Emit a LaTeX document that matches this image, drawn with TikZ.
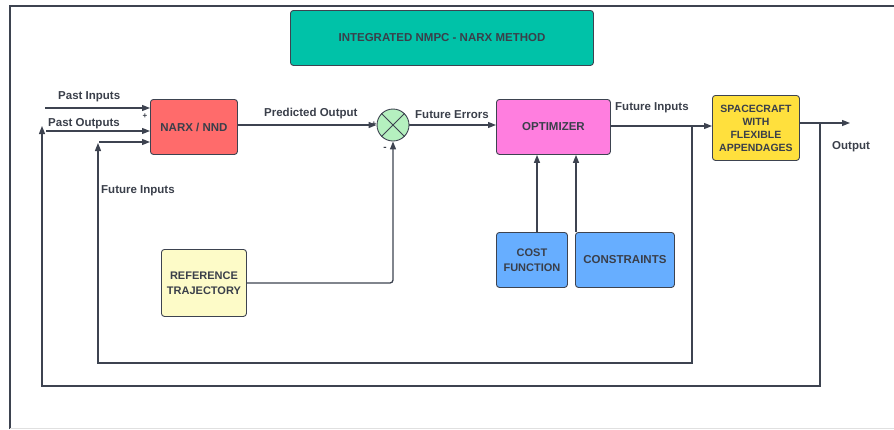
\documentclass[tikz,border=0pt]{standalone}
\usepackage{fontspec}
\setmainfont{Liberation Sans}
\usetikzlibrary{arrows.meta}
\definecolor{ln}{HTML}{3D4350}
\definecolor{tx}{HTML}{3A3F4A}
\definecolor{teal}{HTML}{00C2A8}
\definecolor{narx}{HTML}{FF6B6B}
\definecolor{opt}{HTML}{FF7EDF}
\definecolor{sc}{HTML}{FFE03D}
\definecolor{blu}{HTML}{67AEFF}
\definecolor{ref}{HTML}{FDFBC8}
\definecolor{sumc}{HTML}{B5F0BF}
\tikzset{
  blk/.style={draw=ln, line width=0.9pt, rounded corners=3pt, inner sep=0pt, anchor=north west,
    font=\fontsize{11.5}{13}\selectfont\bfseries, text=tx, align=center},
  conn/.style={draw=ln, line width=1.3pt, -{Triangle[length=8pt,width=6pt]}},
  lbl/.style={font=\fontsize{11.5}{13}\selectfont\bfseries, text=tx, inner sep=0pt},
  sml/.style={font=\fontsize{8}{9}\selectfont\bfseries, text=tx, inner sep=0pt}
}
\begin{document}
\begin{tikzpicture}[x=1pt,y=-1pt]
\useasboundingbox (0,0) rectangle (894,429);
% frame
\draw[ln, line width=2pt] (10,429) -- (10,6) -- (894,6);
\draw[black!12, line width=0.6pt] (10,428) -- (894,428);
% title
\node[blk, fill=teal, minimum width=303pt, minimum height=55pt, font=\fontsize{11.5}{13}\selectfont\bfseries] (title) at (290,10) {INTEGRATED NMPC - NARX METHOD};
% blocks
\node[blk, fill=narx, minimum width=87pt, minimum height=55pt] (narx) at (150,99) {NARX / NND};
\node[draw=ln, line width=0.9pt, fill=sumc, circle, minimum size=32pt, inner sep=0pt] (sum) at (393,125) {};
\draw[ln, line width=0.8pt] (sum.north west) -- (sum.south east) (sum.north east) -- (sum.south west);
\node[blk, fill=opt, minimum width=114pt, minimum height=55pt] (opt) at (496,99) {OPTIMIZER};
\node[blk, fill=sc, minimum width=87pt, minimum height=65pt, font=\fontsize{10.5}{13}\selectfont\bfseries] (sc) at (712,95) {SPACECRAFT\\WITH\\FLEXIBLE\\APPENDAGES};
\node[blk, fill=ref, minimum width=85pt, minimum height=67pt, font=\fontsize{11}{15}\selectfont\bfseries] (ref) at (161,249) {REFERENCE\\TRAJECTORY};
\node[blk, fill=blu, minimum width=71pt, minimum height=55pt, font=\fontsize{11}{15}\selectfont\bfseries] (cost) at (496,232) {COST\\FUNCTION};
\node[blk, fill=blu, minimum width=99pt, minimum height=55pt] (cons) at (575,232) {CONSTRAINTS};
% coordinates
\coordinate (pi0) at (45,108);
\coordinate (po0) at (46,131);
\coordinate (out) at (850,123);
\coordinate (fb1) at (820,123);
\coordinate (fb2) at (820,386);
\coordinate (fb3) at (42,386);
\coordinate (fb4) at (42,126);
\coordinate (fi1) at (692,126);
\coordinate (fi2) at (692,363);
\coordinate (fi3) at (98,363);
\coordinate (fi4) at (98,143);
\coordinate (fi5) at (99,142);
% connectors
\draw[conn] (pi0) -- (narx.west |- pi0);
\draw[conn] (po0) -- (narx.west |- po0);
\draw[conn] (fi5) -- (narx.west |- fi5);
\draw[conn] (narx.east |- sum.west) -- (sum.west);
\draw[conn, rounded corners=3pt] (ref.east |- 0,283) -- (393,283) -- (sum.south);
\draw[conn] (sum.east) -- (opt.west |- sum.east);
\draw[conn] (opt.east |- 0,126) -- (sc.west |- 0,126);
\draw[conn] (sc.east |- out) -- (out);
\draw[conn] (cost.north -| 537,0) -- (opt.south -| 537,0);
\draw[conn] (cons.north -| 576,0) -- (opt.south -| 576,0);
\draw[conn] (fb1) -- (fb2) -- (fb3) -- (fb4);
\draw[conn] (fi1) -- (fi2) -- (fi3) -- (fi4);
% labels
\node[lbl, anchor=west] (lpi) at (58,97) {Past Inputs};
\node[lbl, anchor=west] (lpo) at (48,124) {Past Outputs};
\node[lbl, anchor=west] (lfi) at (101,191) {Future Inputs};
\node[lbl, anchor=west] (lpr) at (264,114) {Predicted Output};
\node[lbl, anchor=west] (lfe) at (415,115) {Future Errors};
\node[lbl, anchor=west] (lfi2) at (615,108) {Future Inputs};
\node[lbl, anchor=west] (lout) at (832,147) {Output};
\node[sml] (p1) at (145,116) {+};
\node[sml] (p2) at (374,124) {+};
\node[sml, font=\fontsize{10}{11}\selectfont\bfseries] (m1) at (385,149) {-};
\end{tikzpicture}
\end{document}
